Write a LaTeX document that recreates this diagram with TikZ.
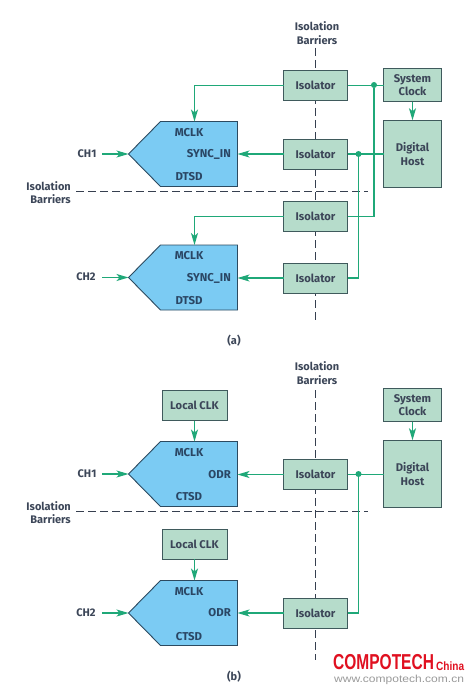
\documentclass[tikz,border=0pt]{standalone}
\usepackage{fontspec}
\setmainfont{Fira Sans}
\newfontfamily\markfont{Liberation Sans}
\usetikzlibrary{arrows.meta}
\definecolor{wire}{HTML}{1FA878}
\definecolor{boxfill}{HTML}{B6DCCB}
\definecolor{boxline}{HTML}{3F5A5C}
\definecolor{adcfill}{HTML}{7BCBF3}
\definecolor{adcline}{HTML}{2C4A60}
\definecolor{txt}{HTML}{3C4658}
\definecolor{adctxt}{HTML}{2A4664}
\definecolor{markred}{HTML}{E01020}
\definecolor{markgray}{HTML}{9A9A9A}
\tikzset{
  x=1pt,y=-1pt,
  greenbox/.style={draw=boxline,fill=boxfill,line width=0.9pt,text=txt,font=\fontsize{11.2}{13.5}\selectfont\bfseries,align=center,inner sep=0pt,outer sep=0pt},
  iso/.style={greenbox,minimum width=64pt,minimum height=30pt},
  clockbox/.style={greenbox,minimum width=58pt,minimum height=33.5pt},
  hostbox/.style={greenbox,minimum width=58pt,minimum height=67.5pt},
  localbox/.style={greenbox,minimum width=65pt,minimum height=30pt},
  adc/.style={draw=adcline,fill=adcfill,line width=0.9pt,line join=miter},
  adclabel/.style={text=adctxt,font=\fontsize{11.4}{12}\selectfont\bfseries,inner sep=0pt},
  label/.style={text=txt,font=\fontsize{11}{13.5}\selectfont\bfseries,inner sep=0pt,align=center},
  wireline/.style={draw=wire,line width=1.2pt},
  wirearrow/.style={wireline,-{Stealth[length=12pt,width=7pt,inset=3pt]}},
  barrier/.style={draw=txt!90!black,line width=0.9pt,dash pattern=on 8pt off 4pt},
  dot/.style={circle,fill=wire,inner sep=0pt,minimum size=6pt},
}
\newcommand{\adcshape}[2]{%
  \path[adc] (128.5,#2) -- (160.5,#2-32.5) -- (237.5,#2-32.5) -- (237.5,#2+32.5) -- (160.5,#2+32.5) -- cycle;
  \coordinate (#1tip) at (128.5,#2);
  \coordinate (#1in) at (237.5,#2);
  \coordinate (#1top) at (194.5,#2-32.5);
  \coordinate (#1src) at (102,#2);
}
\begin{document}
\begin{tikzpicture}
\useasboundingbox (0,0) rectangle (472,690);
\fill[white] (0,0) rectangle (472,690);
% panel (a)
\coordinate (va1) at (315,48); \coordinate (va2) at (315,323);
\coordinate (ha1) at (76,191.5); \coordinate (ha2) at (368,191.5);
\draw[barrier] (va1) -- (va2);
\adcshape{a}{154}
\adcshape{b}{277.5}
\draw[barrier] (ha1) -- (ha2);
\node[iso] (i1) at (315.5,85.5) {Isolator};
\node[iso] (i2) at (315.5,154) {Isolator};
\node[iso] (i3) at (315.5,216.5) {Isolator};
\node[iso] (i4) at (315.5,278) {Isolator};
\node[clockbox] (clk) at (412.5,85) {System\\Clock};
\node[hostbox] (host) at (412.5,154) {Digital\\Host};
\node[label] (tb) at (317,33) {Isolation\\Barriers};
\node[label,align=right,anchor=east] (lb) at (71,192.5) {Isolation\\Barriers};
\node[label] (ch1) at (87,154) {CH1};
\node[label] (ch2) at (86,277) {CH2};
\node[label] (capa) at (234,341) {(a)};
\node[adclabel] at (189,133) {MCLK};
\node[adclabel,anchor=east] at (231,154.5) {SYNC\_IN};
\node[adclabel] at (189,177) {DTSD};
\node[adclabel] at (189,255.5) {MCLK};
\node[adclabel,anchor=east] at (231,278) {SYNC\_IN};
\node[adclabel] at (189,300.5) {DTSD};
\node[dot] (d1) at (374,85) {};
\node[dot] (d2) at (358.5,154) {};
\draw[wireline] (i1.east) -- (i1.east -| clk.west);
\draw[wireline] (d1) |- (i3.east);
\draw[wireline] (i2.east) -- (host.west |- i2.east);
\draw[wireline] (d2) |- (i4.east);
\draw[wirearrow] (clk.south) -- (host.north);
\draw[wirearrow] (i1.west) -| (atop);
\draw[wirearrow] (i3.west) -| (btop);
\draw[wirearrow] (i2.west) -- (ain);
\draw[wirearrow] (i4.west) -- (ain |- i4.west);
\draw[wirearrow] (asrc) -- (atip);
\draw[wirearrow] (bsrc) -- (btip);
% panel (b)
\coordinate (vb1) at (315,390); \coordinate (vb2) at (315,660);
\coordinate (hb1) at (76,511.5); \coordinate (hb2) at (368,511.5);
\draw[barrier] (vb1) -- (vb2);
\adcshape{c}{474}
\adcshape{e}{613}
\draw[barrier] (hb1) -- (hb2);
\node[iso] (j1) at (315.5,474.5) {Isolator};
\node[iso] (j2) at (315.5,613) {Isolator};
\node[clockbox] (clkb) at (412.5,405) {System\\Clock};
\node[hostbox] (hostb) at (412.5,474) {Digital\\Host};
\node[localbox] (lc1) at (194.5,405.5) {Local CLK};
\node[localbox] (lc2) at (194.5,544) {Local CLK};
\node[label] (tb2) at (317,373) {Isolation\\Barriers};
\node[label,align=right,anchor=east] (lb2) at (71,512.5) {Isolation\\Barriers};
\node[label] (ch3) at (87,474) {CH1};
\node[label] (ch4) at (86,613) {CH2};
\node[label] (capb) at (234,677) {(b)};
\node[adclabel] at (189,453) {MCLK};
\node[adclabel,anchor=east] at (231,474.5) {ODR};
\node[adclabel] at (189,497) {CTSD};
\node[adclabel] at (189,592) {MCLK};
\node[adclabel,anchor=east] at (231,613) {ODR};
\node[adclabel] at (189,637) {CTSD};
\node[dot] (d3) at (358.5,474) {};
\draw[wireline] (j1.east) -- (hostb.west |- j1.east);
\draw[wireline] (d3) |- (j2.east);
\draw[wirearrow] (clkb.south) -- (hostb.north);
\draw[wirearrow] (lc1.south) -- (ctop);
\draw[wirearrow] (lc2.south) -- (etop);
\draw[wirearrow] (j1.west) -- (cin |- j1.west);
\draw[wirearrow] (j2.west) -- (ein |- j2.west);
\draw[wirearrow] (csrc) -- (ctip);
\draw[wirearrow] (esrc) -- (etip);
% watermark
\node[anchor=west,inner sep=0pt,text=markred] (wm1) at (333,662.5) {\scalebox{0.775}[1.08]{\markfont\bfseries\fontsize{20}{20}\selectfont COMPOTECH}};
\node[anchor=west,inner sep=0pt,text=markred] (wm2) at (436,666) {\scalebox{0.84}[1]{\markfont\bfseries\fontsize{12}{12}\selectfont China}};
\node[anchor=west,inner sep=0pt,text=markgray] (wm3) at (334,680) {\scalebox{1.18}[1]{\markfont\fontsize{10.2}{10.2}\selectfont www.compotech.com.cn}};
\end{tikzpicture}
\end{document}
